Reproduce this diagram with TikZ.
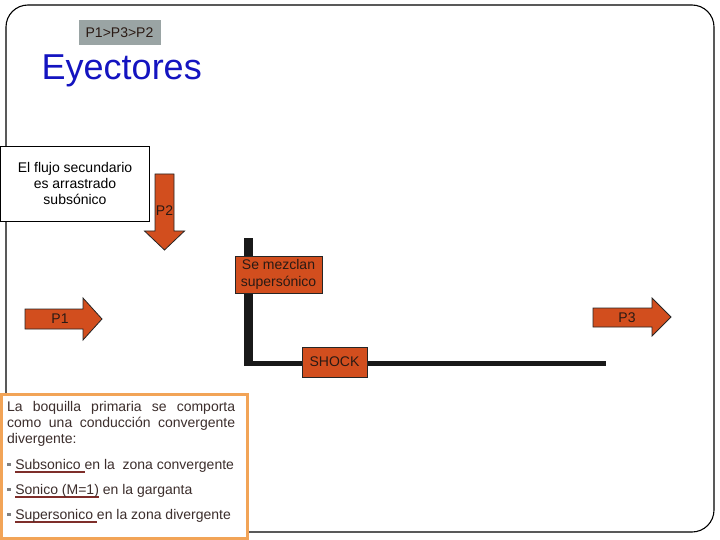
\documentclass[tikz,border=0pt]{standalone}
\usepackage{fontspec}
\setmainfont{Liberation Sans}
\definecolor{orng}{HTML}{D24E1E}
\definecolor{graybx}{HTML}{9AA4A4}
\definecolor{ttlblue}{HTML}{1414C0}
\definecolor{bxborder}{HTML}{F2A457}
\definecolor{bxtext}{HTML}{3C2E2C}
\definecolor{ulcol}{HTML}{7E2E2A}
\definecolor{lbl}{HTML}{2A1A14}
\newcommand\myul[1]{\setbox0\hbox{#1}\rlap{\color{ulcol}\rule[-3.8pt]{\wd0}{1.8pt}}\box0\relax}
\newcommand\mybul{{\color{gray}\rule[3pt]{3.5pt}{3.5pt}}\hspace{4.3pt}}
\tikzset{
  pbox/.style={fill=orng, draw=black!85, line width=0.8pt, inner sep=0pt, align=center,
               text=lbl, font=\fontsize{14}{17}\selectfont},
  parrow/.style={fill=orng, draw=black!85, line width=0.8pt},
  plabel/.style={inner sep=0pt, text=lbl, font=\fontsize{14}{17}\selectfont},
  btext/.style={anchor=base west, inner sep=0pt, text=bxtext, font=\fontsize{14}{16}\selectfont}
}
\begin{document}
\begin{tikzpicture}[x=1pt,y=-1pt]
\useasboundingbox (0,0) rectangle (720,540);
% outer frame
\draw[line width=1.1pt, rounded corners=22pt] (6,5) rectangle (714,532);
% order box
\node[fill=graybx, minimum width=82, minimum height=25, inner sep=0pt, text=lbl,
      font=\fontsize{14}{16}\selectfont] (ord) at (119.5,32.5) {P1>P3>P2};
% title
\node[anchor=base west, inner sep=0pt, text=ttlblue, font=\fontsize{36}{40}\selectfont]
      (title) at (41.5,80) {Eyectores};
% secondary flow text box
\node[draw=black, fill=white, line width=0.8pt, minimum width=149, minimum height=75,
      inner sep=0pt, align=center, font=\fontsize{14}{16}\selectfont]
      (sec) at (75,183.5) {El flujo secundario\\es arrastrado\\subsónico};
% P2 arrow
\draw[parrow] (155,174) -- (174,174) -- (174,231) -- (184.5,231) -- (164.5,250)
      -- (144.5,231) -- (155,231) -- cycle;
\node[plabel] (p2) at (164.5,210.5) {P2};
% P1 arrow
\draw[parrow] (25,309) -- (83,309) -- (83,298) -- (102,319) -- (83,340)
      -- (83,329) -- (25,329) -- cycle;
\node[plabel] (p1) at (60,319) {P1};
% P3 arrow
\draw[parrow] (593,308) -- (652,308) -- (652,298) -- (671,317) -- (652,336)
      -- (652,327) -- (593,327) -- cycle;
\node[plabel] (p3) at (627,318) {P3};
% black L
\coordinate (ltop) at (248.5,238);
\coordinate (lcorner) at (248.5,361);
\coordinate (lstart) at (244,363);
\coordinate (lend) at (606,363);
\draw[line width=9pt, color=black!90] (ltop) -- (lcorner);
\draw[line width=5pt, color=black!90] (lstart) -- (lend);
% mixing box and shock
\node[pbox, minimum width=87, minimum height=37] (mix) at (278.5,274.5) {Se mezclan\\supersónico};
\node[pbox, minimum width=65, minimum height=30] (shock) at (334.5,362) {SHOCK};
% nozzle description box
\draw[draw=bxborder, line width=3pt, fill=white] (1.5,394) rectangle (247.5,538.5);
\node[btext] (l1) at (7,411) {\makebox[228pt][s]{La boquilla primaria se comporta}};
\node[btext] (l2) at (7,427) {\makebox[228pt][s]{como una conducción convergente}};
\node[btext] (l3) at (7,443) {divergente:};
\node[btext] (b1) at (7.3,469) {\mybul\myul{Subsonico }en la~ zona convergente};
\node[btext] (b2) at (7.3,494) {\mybul\myul{Sonico (M=1)} en la garganta};
\node[btext] (b3) at (7.3,519) {\mybul\myul{Supersonico }en la zona divergente};
\end{tikzpicture}
\end{document}
